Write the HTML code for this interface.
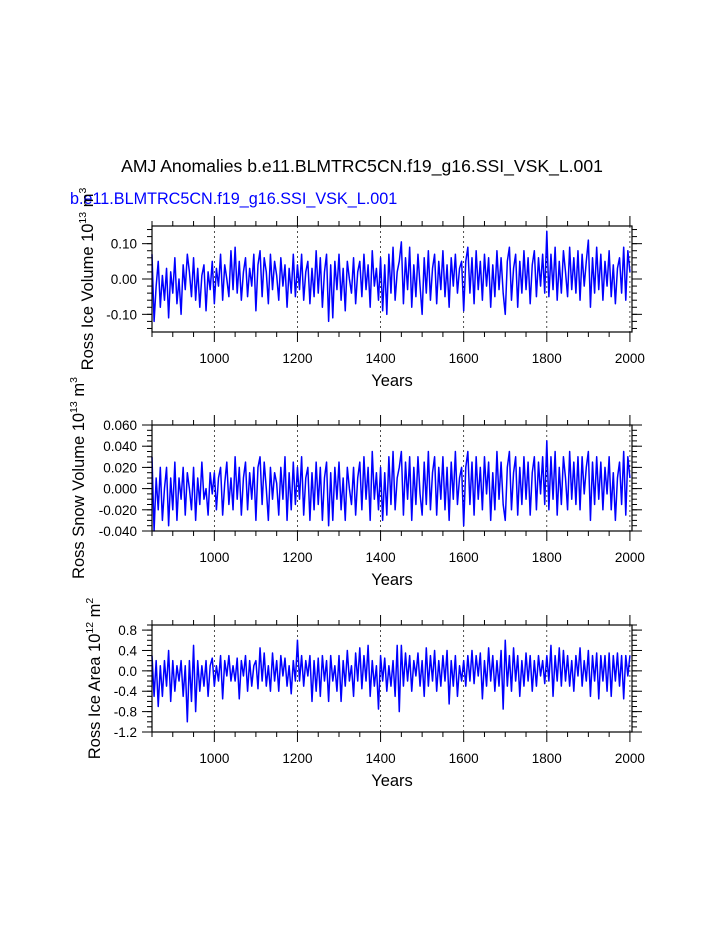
<!DOCTYPE html>
<html><head><meta charset="utf-8"><style>
html,body{margin:0;padding:0;background:#fff;}
svg{display:block;font-family:"Liberation Sans",Arial,sans-serif;}
</style></head><body>
<svg id="c" width="723" height="935" viewBox="0 0 723 935">
<text x="362" y="172" font-size="17.6" text-anchor="middle">AMJ Anomalies b.e11.BLMTRC5CN.f19_g16.SSI_VSK_L.001</text>
<text x="70" y="204" font-size="16.2" fill="#0000ff">b.e11.BLMTRC5CN.f19_g16.SSI_VSK_L.001</text>
</svg>
<script>
const startYear = 850, stepYears = 5;
const iceVolume = [
0.07,-0.12,-0.02,0.05,-0.08,0.01,-0.06,0.03,-0.11,0.02,
-0.04,0.06,-0.07,0.00,-0.10,0.04,-0.03,0.07,0.02,-0.05,
0.06,-0.06,0.03,-0.08,0.01,0.04,-0.09,0.02,-0.03,0.05,
-0.07,0.03,-0.02,0.07,-0.06,0.04,0.00,-0.05,0.08,-0.03,
0.09,-0.04,0.05,-0.06,0.02,0.06,-0.05,0.03,-0.02,0.07,
-0.09,0.04,0.08,-0.05,0.06,0.02,-0.07,0.07,-0.03,0.05,
0.01,-0.06,0.06,-0.02,0.04,-0.08,0.03,-0.04,0.07,-0.05,
0.04,-0.03,0.07,-0.06,0.02,0.05,-0.07,0.03,-0.05,0.08,
-0.04,0.06,-0.08,0.02,0.07,-0.12,0.04,-0.11,0.05,-0.03,
0.07,-0.06,0.03,-0.09,0.05,0.00,-0.04,0.06,-0.07,0.02,
0.05,-0.05,0.07,-0.03,0.04,-0.08,0.08,-0.02,0.03,-0.06,
0.06,-0.09,0.04,-0.10,0.07,-0.04,0.09,-0.06,0.02,0.05,
0.105,-0.07,0.06,-0.03,0.09,-0.08,0.04,-0.05,0.07,-0.02,
-0.10,0.06,-0.04,0.08,-0.06,0.03,0.07,-0.07,0.05,-0.03,
0.08,-0.05,0.04,-0.08,0.06,-0.02,0.07,-0.04,0.03,0.05,
-0.09,0.05,0.09,-0.04,0.06,-0.07,0.08,-0.03,0.05,-0.06,
0.07,-0.02,0.06,-0.08,0.04,-0.05,0.08,-0.03,0.06,-0.04,
-0.10,0.05,0.09,-0.06,0.03,0.07,-0.08,0.05,-0.04,0.08,
-0.03,0.06,-0.07,0.04,0.08,-0.05,0.06,-0.02,0.07,-0.04,
0.135,-0.05,0.07,-0.03,0.09,-0.06,0.05,-0.04,0.08,0.02,
-0.05,0.09,-0.03,0.06,-0.04,0.08,-0.06,0.07,-0.02,0.05,
0.11,-0.08,0.06,-0.04,0.09,-0.03,0.07,-0.06,0.05,-0.02,
0.08,-0.05,0.04,-0.07,0.03,0.06,-0.04,0.09,-0.06,0.08,
0.02];
const snowVolume = [
0.03,-0.04,0.01,-0.02,0.02,-0.03,0.00,0.02,-0.035,0.01,
-0.02,0.025,-0.03,0.01,-0.01,0.02,-0.025,0.015,0.00,-0.02,
0.02,-0.03,0.01,-0.015,0.025,-0.01,0.00,-0.025,0.015,-0.005,
0.015,-0.02,0.01,0.02,-0.025,0.005,0.025,-0.015,0.01,-0.02,
0.03,-0.01,0.02,-0.025,0.01,0.025,-0.02,0.015,-0.01,0.02,
-0.03,0.02,0.03,-0.015,0.025,0.00,-0.03,0.02,-0.01,0.015,
0.005,-0.025,0.02,-0.01,0.03,-0.03,0.015,-0.02,0.025,-0.015,
0.02,-0.01,0.03,-0.025,0.01,0.02,-0.03,0.015,-0.02,0.025,
-0.015,0.02,-0.03,0.01,0.025,-0.035,0.015,-0.03,0.02,-0.01,
0.025,-0.02,0.01,-0.03,0.02,0.00,-0.015,0.02,-0.025,0.01,
0.025,-0.02,0.03,-0.01,0.02,-0.03,0.035,-0.01,0.015,-0.02,
0.02,-0.03,0.015,-0.025,0.03,-0.015,0.035,-0.02,0.01,0.02,
0.035,-0.025,0.025,-0.01,0.03,-0.03,0.02,-0.015,0.03,-0.005,
-0.025,0.025,-0.015,0.035,-0.02,0.015,0.03,-0.025,0.02,-0.01,
0.03,-0.02,0.02,-0.03,0.025,-0.01,0.035,-0.015,0.01,0.02,
-0.035,0.02,0.035,-0.015,0.025,-0.025,0.03,-0.01,0.02,-0.02,
0.03,-0.005,0.025,-0.03,0.015,-0.02,0.035,-0.01,0.025,-0.015,
-0.03,0.02,0.035,-0.02,0.015,0.03,-0.025,0.02,-0.015,0.03,
-0.01,0.025,-0.025,0.015,0.03,-0.02,0.025,-0.005,0.03,-0.015,
0.045,-0.02,0.03,-0.01,0.035,-0.025,0.02,-0.015,0.03,0.01,
-0.02,0.035,-0.01,0.025,-0.015,0.03,-0.02,0.03,-0.005,0.02,
0.035,-0.03,0.025,-0.015,0.03,-0.01,0.025,-0.02,0.02,-0.005,
0.03,-0.02,0.015,-0.03,0.01,0.025,-0.015,0.035,-0.025,0.03,
0.01];
const iceArea = [
0.3,-0.5,0.2,-0.7,0.1,-0.5,0.2,-0.3,0.4,-0.6,
0.2,-0.4,0.1,-0.2,0.2,-0.5,0.1,-1.0,0.2,-0.6,
0.5,-0.8,0.2,-0.4,0.1,-0.3,0.2,-0.5,0.1,0.25,
-0.3,0.1,-0.2,0.3,-0.55,0.2,-0.1,0.3,-0.2,0.1,
-0.2,0.25,-0.55,0.2,-0.1,0.3,-0.4,0.2,-0.3,0.1,
0.2,-0.35,0.45,-0.2,0.35,-0.3,0.1,-0.4,0.35,-0.2,
0.2,-0.4,0.3,-0.1,0.25,-0.3,0.1,-0.45,0.2,-0.2,
0.6,-0.2,0.3,-0.3,0.2,-0.1,0.3,-0.6,0.2,-0.4,
0.25,-0.5,0.3,-0.2,0.2,-0.6,0.3,-0.2,0.1,-0.4,
0.3,-0.6,0.2,-0.3,0.4,-0.2,0.1,-0.5,0.35,-0.2,
0.45,-0.35,0.3,-0.2,0.5,-0.5,0.2,-0.3,0.1,-0.75,
0.3,-0.2,0.25,-0.4,0.1,-0.3,0.2,-0.5,0.5,-0.8,
0.5,-0.3,0.35,-0.2,0.3,-0.4,0.2,-0.1,0.35,-0.3,
0.2,-0.5,0.45,-0.3,0.3,-0.2,0.4,-0.4,0.2,-0.3,
0.3,-0.2,0.4,-0.65,0.2,-0.3,0.3,-0.5,0.1,-0.2,
0.2,-0.3,0.3,-0.2,0.4,-0.25,0.3,-0.1,0.35,-0.55,
0.2,-0.3,0.45,-0.2,0.3,-0.4,0.2,-0.3,0.4,-0.75,
0.6,-0.3,0.3,-0.4,0.45,-0.2,0.3,-0.5,0.2,-0.3,
0.35,-0.2,0.3,-0.4,0.2,-0.3,0.3,-0.1,0.2,-0.25,
0.3,-0.2,0.5,-0.5,0.3,-0.2,0.45,-0.3,0.4,-0.2,
0.3,-0.3,0.2,-0.4,0.3,-0.1,0.45,-0.3,0.2,-0.2,
0.4,-0.5,0.3,-0.2,0.35,-0.55,0.3,-0.2,0.3,-0.4,
0.35,-0.5,0.3,-0.2,0.35,-0.3,0.3,-0.55,0.3,-0.1,
0.3];
const xTickLabels = ["1000","1200","1400","1600","1800","2000"];
const yTicks1 = ["0.10","0.00","-0.10"];
const yTicks2 = ["0.060","0.040","0.020","0.000","-0.020","-0.040"];
const yTicks3 = ["0.8","0.4","0.0","-0.4","-0.8","-1.2"];

const NS = "http://www.w3.org/2000/svg";
const svg = document.getElementById('c');
function mk(tag, attrs, parent){ const e=document.createElementNS(NS,tag); for(const k in attrs) e.setAttribute(k,attrs[k]); (parent||svg).appendChild(e); return e; }

const X0=152, X1=632, YR0=850, YR1=2005;
function xScale(y){ return X0 + (y-YR0)/(YR1-YR0)*(X1-X0); }

const panels = [
 {name:'ice-volume', top:226, bot:332, ymin:-0.15, ymax:0.15, data:iceVolume, ticks:yTicks1, minor:0.02, title:'Ross Ice Volume 10', exp:'13', unit:' m', uexp:'3', tx:93},
 {name:'snow-volume', top:425, bot:531, ymin:-0.04, ymax:0.06, data:snowVolume, ticks:yTicks2, minor:0.005, title:'Ross Snow Volume 10', exp:'13', unit:' m', uexp:'3', tx:84},
 {name:'ice-area', top:625, bot:732, ymin:-1.2, ymax:0.9, data:iceArea, ticks:yTicks3, minor:0.1, title:'Ross Ice Area 10', exp:'12', unit:' m', uexp:'2', tx:100}
];

panels.forEach(p=>{
  const g = mk('g',{});
  
  
  const yS = v => p.bot - (v-p.ymin)/(p.ymax-p.ymin)*(p.bot-p.top);
  [1000,1200,1400,1600,1800,2000].forEach(yr=>{
    const l = mk('line',{x1:xScale(yr),x2:xScale(yr),y1:p.top,y2:p.bot,stroke:'#000','stroke-width':0.7,'stroke-dasharray':'2,3'},g);
    
    
  });
  let d='';
  p.data.forEach((v,i)=>{ const yr=startYear+i*stepYears; d += (i?'L':'M')+xScale(yr).toFixed(2)+','+yS(v).toFixed(2); });
  const path = mk('path',{d:d,fill:'none',stroke:'#0000ff','stroke-width':1.5,'stroke-linejoin':'round'},g);
  
  
  const fr = mk('rect',{x:X0,y:p.top,width:X1-X0,height:p.bot-p.top,fill:'none',stroke:'#000','stroke-width':1.2},g);
  
  
  for(let yr=850; yr<=2000; yr+=50){
    const major = yr%200===0;
    const len = major?10:5;
    const x = xScale(yr);
    mk('line',{x1:x,x2:x,y1:p.bot,y2:p.bot+len,stroke:'#000','stroke-width':1},g);
    mk('line',{x1:x,x2:x,y1:p.top,y2:p.top-len,stroke:'#000','stroke-width':1},g);
  }
  xTickLabels.forEach(lbl=>{
    const t = mk('text',{x:xScale(+lbl),y:p.bot+31,'font-size':13.5,'text-anchor':'middle'},g);
    t.textContent = lbl;
    
    
  });
  for(let v=Math.ceil(p.ymin/p.minor-1e-6)*p.minor; v<=p.ymax+1e-9; v+=p.minor){
    mk('line',{x1:X0,x2:X0-5,y1:yS(v),y2:yS(v),stroke:'#000','stroke-width':1},g);
    mk('line',{x1:X1,x2:X1+5,y1:yS(v),y2:yS(v),stroke:'#000','stroke-width':1},g);
  }
  p.ticks.forEach(lbl=>{
    const y = yS(parseFloat(lbl));
    mk('line',{x1:X0,x2:X0-10,y1:y,y2:y,stroke:'#000','stroke-width':1},g);
    mk('line',{x1:X1,x2:X1+10,y1:y,y2:y,stroke:'#000','stroke-width':1},g);
    const t = mk('text',{x:X0-15,y:y+5,'font-size':13.5,'text-anchor':'end'},g);
    t.textContent = lbl;
    
    
  });
  const xt = mk('text',{x:392,y:p.bot+54,'font-size':16.5,'text-anchor':'middle'},g);
  xt.textContent='Years';
  
  
  const cy=(p.top+p.bot)/2;
  const yt = mk('text',{x:0,y:0,'font-size':16.5,'text-anchor':'middle',transform:'translate('+p.tx+','+cy+') rotate(-90)'},g);
  
  
  const s1 = mk('tspan',{},yt); s1.textContent=p.title;
  const s2 = mk('tspan',{dy:-7,'font-size':10.5},yt); s2.textContent=p.exp;
  const s3 = mk('tspan',{dy:7},yt); s3.textContent=p.unit;
  const s4 = mk('tspan',{dy:-7,'font-size':10.5},yt); s4.textContent=p.uexp;
});
</script>
</body></html>
